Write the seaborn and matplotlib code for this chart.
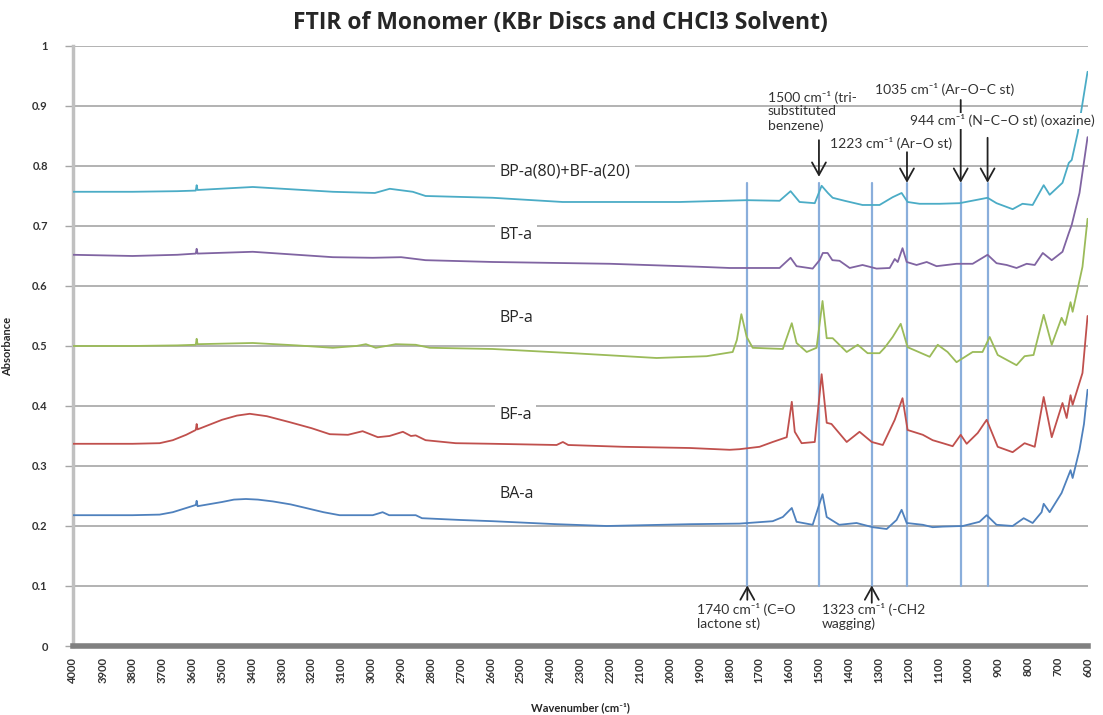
import pandas as pd
import seaborn as sns
import matplotlib.pyplot as plt

# spectra: (wavenumber cm-1, absorbance)
ba_a = [(4000, 0.218), (3900, 0.218), (3800, 0.218), (3709, 0.219), (3665, 0.223), (3620, 0.230),
        (3588, 0.235), (3585, 0.242), (3582, 0.233), (3500, 0.240), (3460, 0.244), (3420, 0.245),
        (3380, 0.244), (3330, 0.241), (3270, 0.236), (3219, 0.230), (3160, 0.223), (3106, 0.218),
        (2995, 0.218), (2962, 0.223), (2940, 0.218), (2851, 0.218),
        (2830, 0.213), (2700, 0.210), (2593, 0.208), (2379, 0.203), (2211, 0.200), (1933, 0.203),
        (1766, 0.204), (1655, 0.208), (1621, 0.215), (1591, 0.230), (1575, 0.207), (1521, 0.202),
        (1488, 0.253), (1474, 0.215), (1432, 0.202), (1374, 0.205), (1320, 0.198), (1273, 0.195),
        (1240, 0.210), (1223, 0.227), (1206, 0.205), (1152, 0.202), (1119, 0.198), (1085, 0.199),
        (1018, 0.200), (962, 0.207), (938, 0.218), (905, 0.202), (851, 0.200), (814, 0.213),
        (784, 0.205), (754, 0.223), (747, 0.237), (727, 0.223), (687, 0.255), (657, 0.293),
        (650, 0.280), (627, 0.327), (612, 0.370), (600, 0.427)]

bf_a = [(4000, 0.337), (3900, 0.337), (3800, 0.337), (3709, 0.338), (3665, 0.343), (3620, 0.352),
        (3588, 0.360), (3585, 0.370), (3582, 0.361), (3500, 0.377), (3450, 0.384), (3407, 0.387),
        (3350, 0.383), (3273, 0.373), (3200, 0.363),
        (3139, 0.353), (3078, 0.352), (3029, 0.358), (2978, 0.348), (2939, 0.350), (2894, 0.357),
        (2867, 0.350), (2851, 0.351), (2818, 0.343), (2717, 0.338), (2593, 0.337), (2379, 0.335),
        (2358, 0.340), (2340, 0.335), (2157, 0.332), (1933, 0.330), (1799, 0.327), (1766, 0.328),
        (1699, 0.332), (1655, 0.340), (1608, 0.348), (1591, 0.407), (1581, 0.357), (1558, 0.338),
        (1514, 0.340), (1491, 0.453), (1474, 0.372), (1458, 0.370), (1407, 0.340), (1364, 0.357),
        (1323, 0.340), (1286, 0.335), (1246, 0.377), (1220, 0.413), (1203, 0.360), (1152, 0.352),
        (1119, 0.343), (1085, 0.338), (1052, 0.333), (1025, 0.352), (1005, 0.337), (968, 0.355),
        (938, 0.377), (901, 0.332), (851, 0.323), (811, 0.338), (777, 0.332), (747, 0.415),
        (720, 0.348), (684, 0.405), (670, 0.380), (657, 0.418), (650, 0.402), (617, 0.455),
        (600, 0.550)]

bp_a = [(4000, 0.500), (3800, 0.500), (3650, 0.501), (3588, 0.502), (3585, 0.512), (3582, 0.503),
        (3397, 0.505), (3250, 0.501), (3129, 0.497), (3050, 0.500), (3018, 0.503), (2985, 0.497),
        (2950, 0.500), (2918, 0.503), (2851, 0.502), (2804, 0.497), (2593, 0.495), (2325, 0.488),
        (2044, 0.480), (1876, 0.483), (1789, 0.490), (1775, 0.510), (1760, 0.553), (1742, 0.515),
        (1722, 0.497), (1621, 0.495), (1591, 0.538), (1575, 0.505), (1541, 0.490), (1508, 0.497),
        (1488, 0.575), (1474, 0.513), (1454, 0.513), (1407, 0.490), (1370, 0.502), (1337, 0.488),
        (1297, 0.488), (1280, 0.497), (1253, 0.515), (1226, 0.537), (1203, 0.498), (1129, 0.482),
        (1102, 0.502), (1069, 0.490), (1039, 0.473), (985, 0.490), (952, 0.490), (928, 0.515),
        (901, 0.485), (838, 0.468), (811, 0.483), (781, 0.485), (747, 0.552), (720, 0.502),
        (687, 0.547), (675, 0.535), (657, 0.573), (650, 0.557), (617, 0.632), (600, 0.712)]

bt_a = [(4000, 0.652), (3800, 0.650), (3650, 0.652), (3588, 0.654), (3585, 0.662), (3582, 0.654),
        (3397, 0.657), (3129, 0.648), (2995, 0.647), (2900, 0.648), (2818, 0.643), (2593, 0.640),
        (2200, 0.637), (1900, 0.632), (1799, 0.630), (1632, 0.630), (1595, 0.647), (1575, 0.633),
        (1521, 0.629), (1498, 0.643), (1487, 0.655), (1471, 0.655), (1455, 0.643), (1431, 0.642),
        (1397, 0.630), (1354, 0.635), (1307, 0.629), (1263, 0.630), (1246, 0.645), (1236, 0.640),
        (1220, 0.663), (1206, 0.640), (1173, 0.635), (1139, 0.640), (1106, 0.633), (1039, 0.637),
        (985, 0.637), (935, 0.652), (905, 0.638), (871, 0.635), (838, 0.630), (804, 0.637),
        (777, 0.635), (750, 0.655), (720, 0.643), (684, 0.657), (663, 0.688), (653, 0.702),
        (627, 0.755), (600, 0.848)]

blend = [(4000, 0.757), (3800, 0.757), (3650, 0.758), (3588, 0.759), (3585, 0.768), (3582, 0.760),
         (3397, 0.765), (3129, 0.757), (2988, 0.755), (2938, 0.762), (2861, 0.757), (2818, 0.750),
         (2593, 0.747), (2359, 0.740), (1967, 0.740), (1742, 0.743), (1632, 0.742), (1595, 0.758),
         (1565, 0.740), (1514, 0.738), (1491, 0.767), (1470, 0.755), (1454, 0.747), (1414, 0.742),
         (1354, 0.735), (1297, 0.735), (1253, 0.748), (1223, 0.755), (1203, 0.740), (1163, 0.737),
         (1096, 0.737), (1029, 0.738), (935, 0.747), (905, 0.738), (851, 0.728), (818, 0.737),
         (784, 0.735), (747, 0.768), (727, 0.752), (684, 0.772), (663, 0.805), (653, 0.810),
         (633, 0.855), (600, 0.957)]

series_names = ["BA-a", "BF-a", "BP-a", "BT-a", "BP-a(80)+BF-a(20)"]
series_colors = ["#4f81bd", "#c0504d", "#9bbb59", "#8064a2", "#4bacc6"]
label_y = [0.253, 0.385, 0.547, 0.685, 0.79]

marker_lines = [1740, 1500, 1323, 1205, 1025, 935]
xticks = list(range(4000, 599, -100))
yticks = [0, 0.1, 0.2, 0.3, 0.4, 0.5, 0.6, 0.7, 0.8, 0.9, 1]


def main():
    sns.set_style("white")
    plt.rcParams["font.family"] = ["Lato", "DejaVu Sans"]

    rows = []
    for name, pts in zip(series_names, [ba_a, bf_a, bp_a, bt_a, blend]):
        for w, a in pts:
            rows.append({"Wavenumber": w, "Absorbance": a, "Sample": name})
    df = pd.DataFrame(rows)

    fig = plt.figure(figsize=(11.03, 7.15), dpi=100)
    ax = fig.add_axes([0.066, 0.0965, 0.92, 0.8392])

    ax.set_axisbelow(True)
    ax.yaxis.grid(True, color="#a6a6a6", linewidth=1.2)
    sns.lineplot(data=df, x="Wavenumber", y="Absorbance", hue="Sample",
                 hue_order=series_names, palette=series_colors, sort=False,
                 linewidth=1.3, legend=False, ax=ax, zorder=3)

    # marker lines through the peaks
    for w in marker_lines:
        ax.plot([w, w], [0.1, 0.772], color="#8aaedb", linewidth=1.6, zorder=2)

    # series labels
    for name, y in zip(series_names, label_y):
        boxed = name != "BP-a"
        ax.text(2570, y, name, fontsize=11.5, family=["Open Sans", "DejaVu Sans"],
                ha="left", va="center", zorder=4,
                bbox=dict(facecolor="white", edgecolor="none", pad=3) if boxed else None)

    # annotations
    arrow = dict(arrowstyle="->,head_length=0.45,head_width=0.25", color="#222222", lw=1.3,
                 mutation_scale=20, shrinkA=0, shrinkB=0)
    afont = dict(fontsize=10, color="#333333", zorder=5)
    ax.annotate("", xy=(1500, 0.782), xytext=(1500, 0.843), arrowprops=arrow)
    ax.annotate("", xy=(1205, 0.772), xytext=(1205, 0.823), arrowprops=arrow)
    ax.annotate("", xy=(1025, 0.772), xytext=(1025, 0.91), arrowprops=arrow)
    ax.annotate("", xy=(935, 0.772), xytext=(935, 0.847), arrowprops=arrow)
    ax.annotate("", xy=(1740, 0.101), xytext=(1740, 0.077), arrowprops=arrow)
    ax.annotate("", xy=(1323, 0.101), xytext=(1323, 0.072), arrowprops=arrow)

    ax.text(1672, 0.925, "1500 cm\u207b\u00b9 (tri-\nsubstituted\nbenzene)",
            ha="left", va="top", linespacing=1.15, **afont)
    ax.text(1313, 0.927, "1035 cm\u207b\u00b9 (Ar\u2013O\u2013C st)", ha="left", va="center", **afont)
    ax.text(1196, 0.875, "944 cm\u207b\u00b9 (N\u2013C\u2013O st) (oxazine)", ha="left", va="center",
            bbox=dict(facecolor="white", edgecolor="none", pad=1), **afont)
    ax.text(1464, 0.837, "1223 cm\u207b\u00b9 (Ar\u2013O st)", ha="left", va="center", **afont)
    ax.text(1910, 0.072, "1740 cm\u207b\u00b9 (C=O\nlactone st)", ha="left", va="top",
            linespacing=1.15, **afont)
    ax.text(1491, 0.072, "1323 cm\u207b\u00b9 (-CH2\nwagging)", ha="left", va="top",
            linespacing=1.15, **afont)

    ax.set_xlim(4000, 600)
    ax.set_ylim(0, 1)
    ax.set_xticks(xticks)
    ax.set_xticklabels([str(t) for t in xticks], rotation=90, fontsize=8, fontweight="bold",
                       color="#333333")
    ax.set_yticks(yticks)
    ax.set_yticklabels([f"{t:g}" for t in yticks], fontsize=8, fontweight="bold", color="#333333")
    ax.tick_params(axis="x", length=0, pad=8)
    ax.tick_params(axis="y", length=6, width=1, color="#a6a6a6", pad=12, left=True)

    for side in ["top", "right"]:
        ax.spines[side].set_visible(False)
    ax.spines["left"].set_color("#c0c0c0")
    ax.spines["left"].set_linewidth(2.5)
    ax.spines["bottom"].set_color("#808080")
    ax.spines["bottom"].set_linewidth(4)

    ax.set_xlabel("Wavenumber (cm\u207b\u00b9)", fontsize=8, fontweight="bold", labelpad=14)
    ax.set_ylabel("Absorbance", fontsize=8, fontweight="bold", labelpad=14)

    fig.text(0.508, 0.968, "FTIR of Monomer (KBr Discs and CHCl3 Solvent)",
             ha="center", va="center", fontsize=16.5, fontweight="bold",
             family=["Open Sans", "DejaVu Sans"])

    fig.savefig("out.png", dpi=100)


if __name__ == "__main__":
    main()
